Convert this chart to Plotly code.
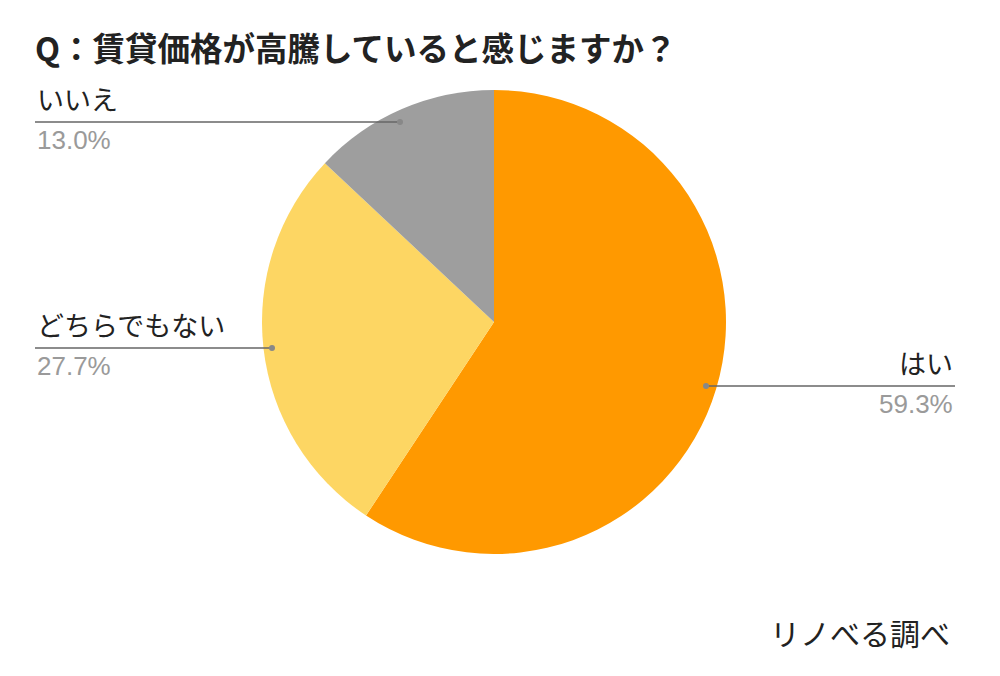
import plotly.graph_objects as go

labels = ["はい", "どちらでもない", "いいえ"]
values = [59.3, 27.7, 13.0]
pct_text = ["59.3%", "27.7%", "13.0%"]
colors = ["#FF9900", "#FDD663", "#9E9E9E"]
title_text = "Q：賃貸価格が高騰していると感じますか？"
source_text = "リノべる調べ"

W, H = 1000, 676
def px(x): return x / W
def py(y): return 1 - y / H

cx, cy, r = 494, 322, 232

fig = go.Figure(go.Pie(
    labels=labels, values=values, sort=False, direction="clockwise", rotation=0,
    marker=dict(colors=colors, line=dict(width=0)),
    textinfo="none", hoverinfo="label+percent", showlegend=False,
    domain=dict(x=[px(cx - r), px(cx + r)], y=[py(cy + r), py(cy - r)]),
))

font = "Noto Sans CJK JP, sans-serif"
# leader lines: (label index, x0, x1, y, dot_x, align)
leaders = [
    (2, 35, 400, 122, 400, "left"),
    (1, 35, 272, 348, 272, "left"),
    (0, 706, 955, 386, 706, "right"),
]
shapes, anns = [], []
for i, x0, x1, y, dx, align in leaders:
    shapes.append(dict(type="line", xref="paper", yref="paper",
                       x0=px(x0), x1=px(x1), y0=py(y), y1=py(y),
                       line=dict(color="#666666", width=1.5)))
    shapes.append(dict(type="circle", xref="paper", yref="paper",
                       x0=px(dx - 3), x1=px(dx + 3), y0=py(y + 3), y1=py(y - 3),
                       fillcolor="#888888", line=dict(width=0)))
    ax = px(x0) if align == "left" else px(x1)
    anns.append(dict(text=labels[i], x=ax, y=py(y - 2), xref="paper", yref="paper",
                     xanchor=align, yanchor="bottom", showarrow=False,
                     font=dict(family=font, size=27, color="#222222")))
    anns.append(dict(text=pct_text[i], x=ax, y=py(y + 1), xref="paper", yref="paper",
                     xanchor=align, yanchor="top", showarrow=False,
                     font=dict(family="Arial, Liberation Sans, sans-serif", size=26, color="#9A9A9A")))

anns.append(dict(text="<b>" + title_text + "</b>", x=px(33), y=py(46), xref="paper", yref="paper",
                 xanchor="left", yanchor="middle", showarrow=False,
                 font=dict(family=font, size=32.5, color="#222222")))
anns.append(dict(text=source_text, x=px(952), y=py(632), xref="paper", yref="paper",
                 xanchor="right", yanchor="middle", showarrow=False,
                 font=dict(family=font, size=30, color="#222222")))

fig.update_layout(width=W, height=H, margin=dict(l=0, r=0, t=0, b=0),
                  paper_bgcolor="white", plot_bgcolor="white",
                  shapes=shapes, annotations=anns)
fig.write_html("out.html")
